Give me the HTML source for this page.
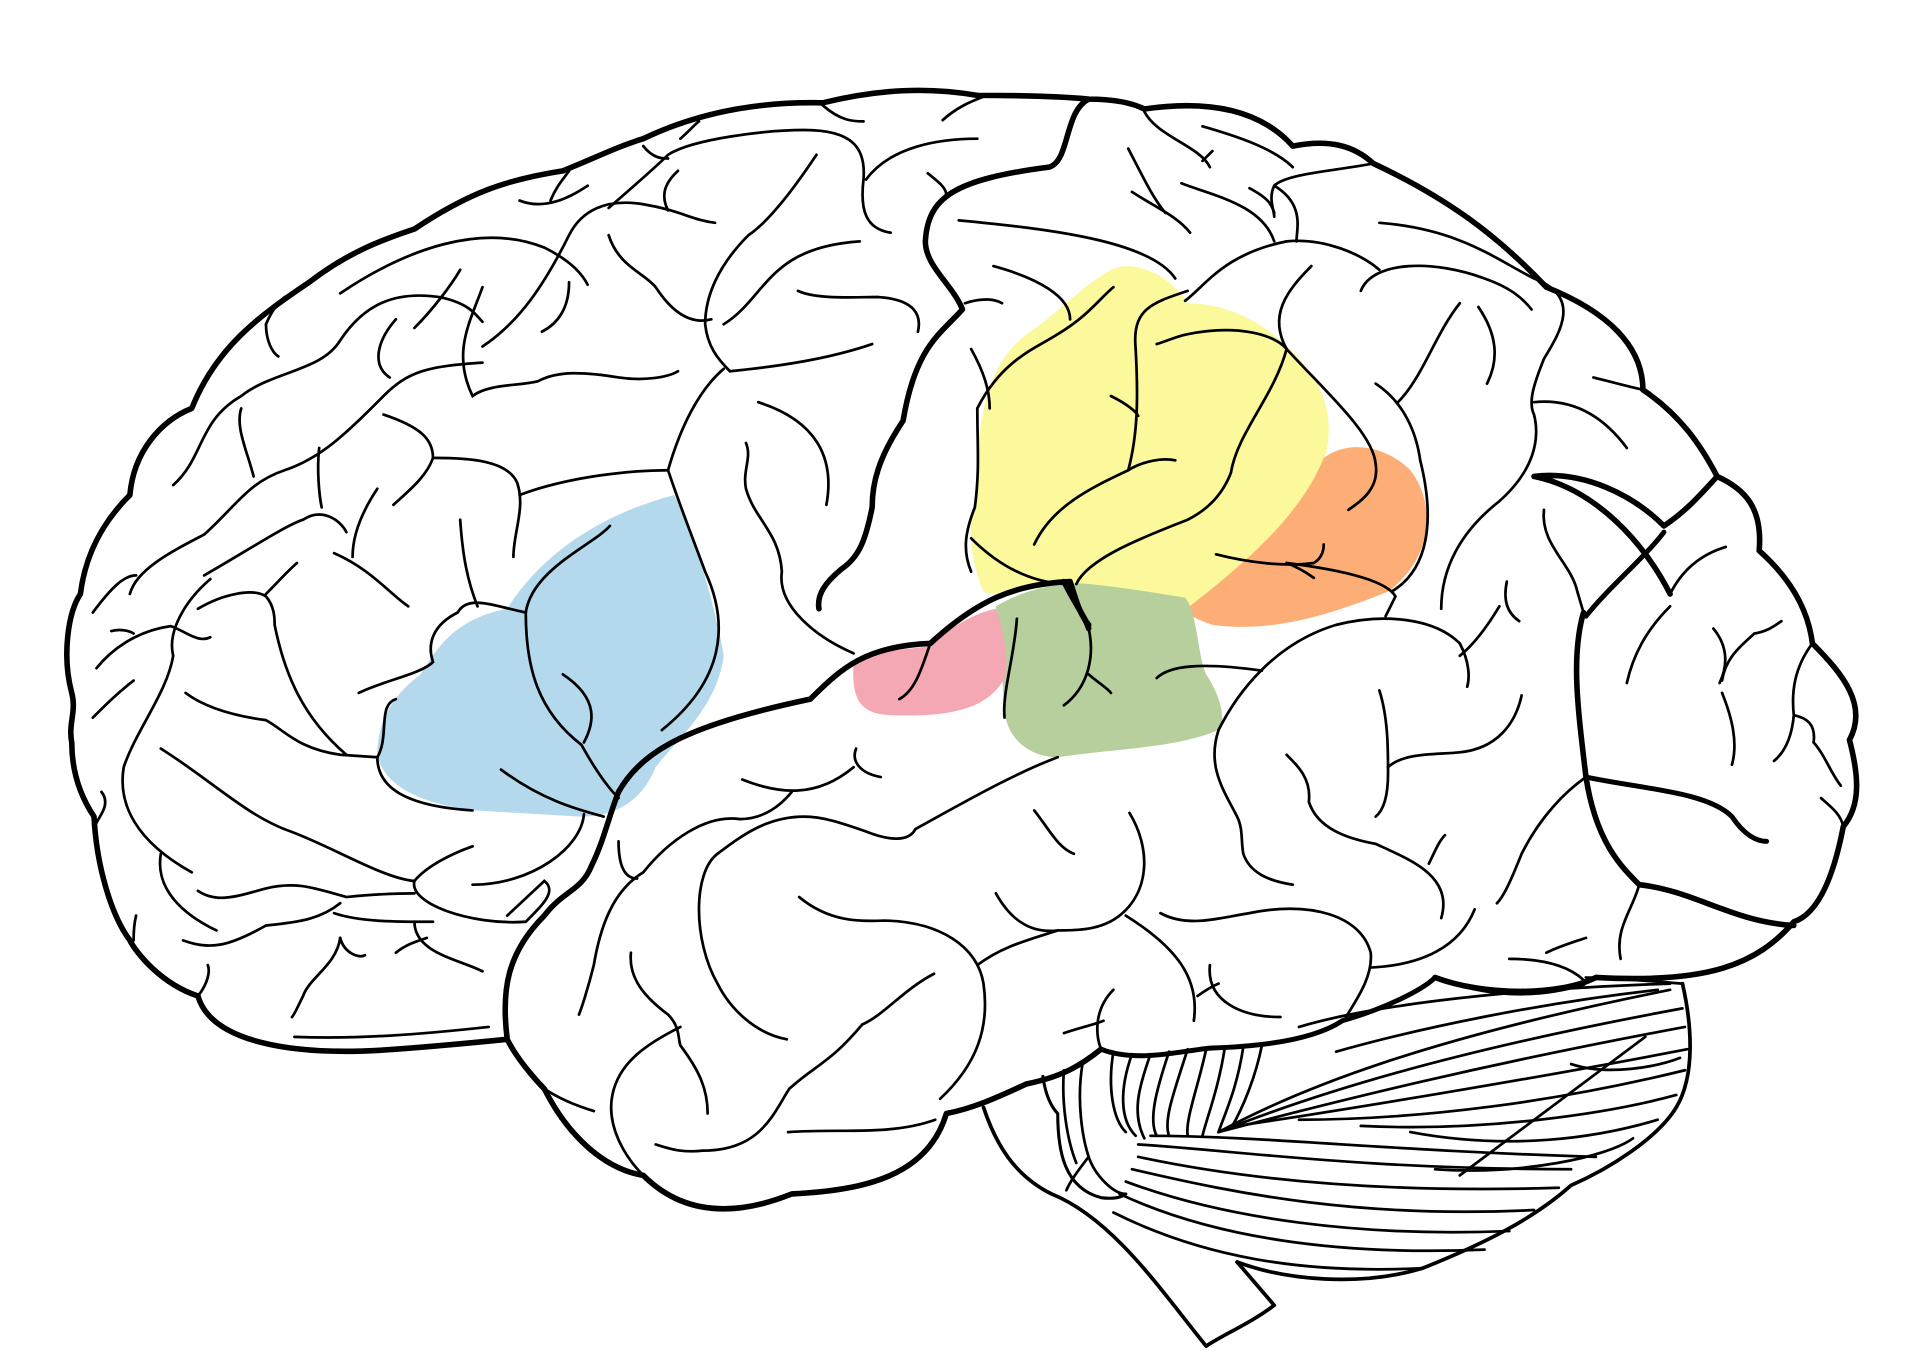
<!DOCTYPE html>
<html><head><meta charset="utf-8"><style>
html,body{margin:0;padding:0;background:#fff;width:1920px;height:1371px;overflow:hidden}
svg{display:block}
</style></head><body>
<svg width="1920" height="1371" viewBox="0 0 1552 1108" xmlns="http://www.w3.org/2000/svg">
<g stroke="none">
<path fill="#b5d9ec" d="M545,400 C565,440 580,500 585,530 C580,570 550,595 530,620 C520,645 500,660 470,660 L385,655 C340,650 310,635 305,610 C305,580 320,560 340,545 C355,520 370,500 410,492 C430,460 470,420 545,400Z"/>
<path fill="#fbf99b" d="M910,215 C935,215 955,235 960,245 C1000,245 1040,270 1065,310 C1085,350 1070,390 1040,420 C1010,455 980,480 960,492 L870,472 C840,470 810,485 795,478 C785,455 780,420 790,400 C790,360 790,300 830,270 C860,250 890,215 910,215Z"/>
<path fill="#fdad76" d="M1070,370 C1090,355 1120,360 1140,380 C1160,405 1160,450 1122,478 C1080,495 1030,512 980,505 C965,500 958,495 958,493 C1000,460 1050,420 1070,370Z"/>
<path fill="#b6cf9c" d="M805,490 C830,475 860,470 880,472 C910,475 940,480 958,483 C968,495 968,530 975,545 C985,560 992,580 985,590 C950,605 900,605 855,612 C835,612 815,600 812,575 C810,545 808,510 805,490Z"/>
<path fill="#f4a8b3" d="M690,535 C710,525 735,525 752,522 C770,505 790,495 805,492 C812,510 816,540 812,548 C800,570 775,580 720,578 C695,577 688,565 690,535Z"/>
</g>
<g fill="none" stroke="#000" stroke-linecap="round" stroke-linejoin="round">
<!-- outer outline -->
<path stroke-width="4.5" d="M160,805 C130,795 110,770 105,760 C90,740 78,700 76,660 C66,645 58,625 58,600 C55,585 62,575 58,560 C50,530 55,495 65,480 C70,440 90,415 105,400 C108,365 130,340 155,330 C175,280 210,255 250,228 C280,205 305,195 335,185 C380,155 410,145 455,138 C480,128 500,118 520,112 C570,88 620,82 665,83 C710,72 750,70 790,77 C830,77 860,78 880,80 C900,80 915,83 925,88 C980,80 1020,90 1045,118 C1075,112 1095,118 1110,132 C1170,160 1210,190 1250,232 C1300,252 1328,280 1328,315 C1358,335 1375,360 1388,385 C1410,395 1425,410 1422,445 C1450,470 1462,495 1465,520 C1490,545 1510,570 1495,598 C1502,625 1505,650 1490,668 C1480,720 1465,740 1450,745 C1420,780 1380,795 1290,790 C1260,805 1200,805 1160,790"/>
<!-- temporal bottom & frontal base -->
<path stroke-width="4.5" d="M160,805 C170,840 230,855 320,848 C360,845 390,842 410,840"/>
<path stroke-width="4.5" d="M410,840 C420,860 440,880 440,880 C460,920 490,945 520,950 C550,980 590,985 640,965 C700,962 750,950 765,900 C790,895 810,885 830,876 C860,870 875,860 890,848"/>
<!-- sylvian fissure -->
<path stroke-width="4.5" d="M410,840 C405,800 410,770 440,740 C455,720 470,720 478,700 C488,680 492,660 500,640 C520,605 560,585 655,565 C680,540 700,522 752,520 C790,485 820,472 865,470 C870,485 872,495 880,505"/>
<path stroke-width="4.5" d="M860,470 C870,490 878,500 880,508"/>
<!-- central sulcus -->
<path stroke-width="4.5" d="M880,80 C860,90 865,130 848,135 C770,145 750,160 748,195 C748,215 770,230 778,250 C760,270 740,280 730,340 C710,370 705,390 705,410 C700,435 695,450 680,460 C668,470 660,480 662,492"/>
<!-- parieto-occipital thick -->
<path stroke-width="4.5" d="M1388,385 C1370,405 1360,415 1345,425 C1320,400 1280,380 1240,385 C1290,395 1330,440 1350,480"/>
<path stroke-width="4.5" d="M1280,495 C1270,530 1275,570 1282,628 C1290,680 1310,700 1325,715 C1370,720 1400,745 1450,748"/>
<path stroke-width="4" d="M1282,628 C1330,638 1380,640 1400,660 C1410,675 1420,680 1428,680"/>
<path stroke-width="4" d="M1282,498 C1300,475 1330,450 1345,430"/>
<!-- cerebellum outline -->
<path stroke-width="3" d="M1360,795 C1368,830 1370,870 1355,895 C1340,920 1300,945 1270,958 C1240,985 1200,1005 1150,1025 C1100,1040 1040,1035 1000,1020"/>
<path stroke-width="3" d="M1000,1020 L1030,1055 C1010,1070 990,1078 975,1088 C940,1045 900,985 850,965 C820,950 805,925 795,895"/>
<path stroke-width="4" d="M890,848 C920,860 960,848 980,847 C1040,845 1070,835 1085,825 C1120,815 1150,800 1160,790 C1190,800 1230,810 1280,795"/>
<path stroke-width="2.5" d="M843,870 C845,885 850,895 855,900 C855,930 860,960 890,968 C905,970 910,965 910,965"/>
</g>
<g fill="none" stroke="#000" stroke-width="2.2" stroke-linecap="round">
<!-- cerebellum folia -->
<path d="M985,915 C1050,880 1150,840 1350,800"/>
<path d="M985,915 C1060,885 1170,850 1360,815"/>
<path d="M985,915 C1080,890 1200,860 1362,830"/>
<path d="M1000,910 C1100,895 1250,870 1364,848"/>
<path d="M1050,905 C1150,905 1260,890 1362,865"/>
<path d="M1100,910 C1200,915 1300,900 1355,885"/>
<path d="M1140,915 C1220,930 1290,920 1340,905"/>
<path d="M1160,945 C1230,950 1300,935 1320,920"/>
<path d="M1050,830 C1100,815 1200,800 1350,795"/>
<path d="M1080,850 C1150,830 1250,810 1340,800"/>
<path d="M920,935 C990,950 1100,965 1260,960"/>
<path d="M915,945 C1000,965 1100,985 1240,978"/>
<path d="M910,955 C990,985 1100,1000 1220,995"/>
<path d="M905,965 C980,1000 1080,1015 1200,1010"/>
<path d="M920,925 C1000,930 1100,945 1270,945"/>
<path d="M930,918 C1020,918 1120,930 1290,935"/>
<path d="M900,980 C970,1015 1050,1030 1150,1025"/>
<path d="M1180,950 L1330,838"/>
<path d="M1270,860 C1300,870 1340,862 1358,855"/>
<path d="M900,850 C895,880 900,905 910,915"/><path d="M915,852 C905,880 905,905 918,918"/>
<path d="M930,852 C920,880 915,900 925,920"/><path d="M945,850 C935,880 928,905 935,918"/>
<path d="M960,848 C950,880 940,905 945,918"/><path d="M975,848 C968,880 958,905 960,918"/>
<path d="M990,847 C985,880 975,905 972,918"/><path d="M1005,846 C1000,880 990,900 985,915"/>
<path d="M1020,845 C1015,870 1005,895 995,912"/>
<path d="M875,860 C870,890 875,920 880,935 C885,950 900,965 910,965"/>
<path d="M860,865 C858,890 862,920 870,940"/>
<path d="M880,935 C870,948 865,955 862,962"/>
<!-- frontal lobe sulci -->
<path d="M275,237 C330,200 390,180 440,200 C460,210 470,220 475,230"/>
<path d="M140,392 C165,370 160,340 195,320 C220,300 260,300 275,275 C295,245 320,235 355,240 C380,245 385,255 390,260"/>
<path d="M105,480 C110,460 140,445 165,432 C190,410 200,390 230,380 C260,370 280,350 310,320 C330,300 345,296 390,293"/>
<path d="M75,495 C90,475 100,465 110,465"/>
<path d="M165,465 C200,445 230,425 245,420 C260,410 275,420 280,430"/>
<path d="M140,530 C135,510 150,485 170,468"/>
<path d="M78,540 C90,525 110,510 138,506 C150,510 160,520 170,515"/>
<path d="M140,530 C135,560 110,590 100,620 C95,650 110,680 155,705"/>
<path d="M75,580 C85,570 95,560 108,550"/>
<path d="M150,560 C170,575 200,580 215,582 C230,590 240,605 275,610 L305,612"/>
<path d="M130,605 C170,630 200,660 235,672 C270,685 310,710 335,712"/>
<path d="M160,492 C180,480 205,475 215,482 C222,490 222,500 222,505 C230,545 245,580 280,610"/>
<path d="M215,480 C225,470 232,462 240,455"/>
<path d="M258,362 C256,380 258,400 260,410"/>
<path d="M270,447 C300,460 315,480 330,490"/>
<path d="M285,450 C285,430 295,410 305,395"/>
<path d="M310,335 C340,345 350,355 350,370 C345,385 330,397 318,408"/>
<path d="M350,370 C380,370 410,372 418,390 C425,410 415,430 415,450"/>
<path d="M420,400 C460,385 510,380 540,380"/>
<path d="M372,420 C374,450 378,470 386,490"/>
<path d="M290,560 C310,550 340,545 350,535 C345,520 350,505 370,495 C378,480 400,490 425,495"/>
<path d="M425,495 C425,540 435,575 470,602 C480,620 490,635 500,645"/>
<path d="M425,495 C430,460 480,440 493,425"/>
<path d="M455,545 C485,565 480,585 472,600"/>
<path d="M405,622 C440,648 470,655 488,660"/>
<path d="M305,612 C305,640 335,652 382,655"/>
<path d="M305,612 C315,595 305,570 320,565"/>
<path d="M335,712 C345,700 365,690 382,684"/>
<path d="M382,715 C430,715 470,685 472,658"/>
<path d="M335,712 C330,730 380,748 425,745"/>
<path d="M425,745 C440,730 450,720 440,712 L410,740"/>
<path d="M160,720 C175,730 190,725 215,718 C240,712 255,718 280,725 C310,722 330,722 335,722"/>
<path d="M130,690 C125,720 150,740 175,752"/>
<path d="M148,760 C170,768 185,765 215,748 C245,745 260,742 275,730"/>
<path d="M270,738 C290,745 320,745 350,745"/>
<path d="M335,745 C335,770 370,775 390,785"/>
<path d="M275,758 C272,780 250,790 245,805 C240,815 238,820 236,822"/>
<path d="M275,758 C278,770 290,775 295,772"/>
<path d="M320,770 C330,762 340,760 345,758"/>
<path d="M238,838 C290,840 340,836 395,830"/>
<path d="M160,805 C168,795 170,785 168,780"/>
<path d="M110,740 C108,748 108,755 108,760"/>
<path d="M82,640 C90,650 80,660 78,665"/>
<path d="M90,510 C98,508 105,510 108,512"/>
<path d="M215,262 C220,250 225,245 230,240"/><path d="M215,262 C215,275 220,285 225,288"/>
<path d="M195,330 C190,345 200,365 205,385"/>
<path d="M335,265 C350,250 365,230 372,218"/>
<path d="M320,258 C305,275 300,295 315,305"/>
<path d="M390,280 C420,260 440,230 460,190 C470,170 490,160 520,165 C550,170 560,178 578,180"/>
<path d="M390,232 C380,260 365,285 382,320 C395,310 420,312 435,308 C450,300 470,300 500,305 C520,308 540,305 548,300"/>
<path d="M460,228 C460,250 450,262 438,268"/>
<path d="M420,162 C440,170 460,160 475,150"/>
<path d="M445,162 C450,150 455,145 460,138"/>
<path d="M492,190 C500,215 520,220 530,232 C545,255 560,262 575,258"/>
<path d="M492,168 C515,148 530,135 540,125 C560,112 620,105 650,105 C690,105 700,120 698,145 C695,170 700,185 720,188"/>
<path d="M548,138 C535,150 535,160 540,170"/>
<path d="M520,118 C528,128 535,128 540,128"/>
<path d="M550,112 C558,105 562,100 565,98"/>
<path d="M660,125 C640,155 620,180 605,190 C580,215 570,240 570,262 C572,280 580,290 590,300"/>
<path d="M585,262 C620,240 620,200 695,195"/>
<path d="M700,145 C720,118 760,112 790,112"/>
<path d="M645,235 C660,242 690,240 710,240 C740,242 745,255 742,268"/>
<path d="M590,300 C630,296 670,290 705,278"/>
<path d="M540,380 C550,345 565,315 585,298"/>
<path d="M540,380 C550,410 562,440 570,462 C590,505 585,550 535,590"/>
<path d="M613,325 C660,340 675,370 668,408"/>
<path d="M603,358 C608,370 600,380 603,395 C610,420 630,430 632,462 C628,490 660,515 690,528"/>
<path d="M665,85 C680,98 690,98 698,98"/>
<path d="M762,97 C775,85 790,80 795,78"/>
<path d="M750,140 C760,148 765,152 765,158"/>
<!-- parietal -->
<path d="M775,178 C850,185 930,195 950,225"/>
<path d="M803,215 C840,225 865,240 865,258"/>
<path d="M780,245 C795,240 805,242 810,245"/>
<path d="M785,282 C795,300 800,315 800,330"/>
<path d="M790,330 C810,290 840,280 855,270 C880,255 890,240 900,232"/>
<path d="M790,330 C790,360 792,380 788,410 C780,430 778,445 785,462"/>
<path d="M785,435 C805,455 830,470 860,472"/>
<path d="M918,282 C915,250 930,245 960,235"/>
<path d="M918,282 C920,320 920,350 912,380 C880,395 850,410 836,440"/>
<path d="M898,320 C910,326 918,332 920,336"/>
<path d="M912,380 C925,372 940,370 950,372"/>
<path d="M870,472 C880,450 930,432 960,420 C980,410 990,395 995,382 C1000,350 1030,320 1040,282 C1030,270 1000,262 960,270 C950,272 945,275 935,278"/>
<path d="M958,243 C975,230 990,205 1040,195 C1070,192 1100,205 1115,218"/>
<path d="M1040,282 C1070,315 1110,350 1112,375 C1115,395 1100,405 1090,412"/>
<path d="M1060,215 C1040,235 1025,255 1040,282"/>
<path d="M1100,235 C1110,210 1160,210 1200,225 C1220,232 1230,240 1238,250"/>
<path d="M983,448 C1010,455 1040,458 1062,455 C1070,450 1070,442 1070,440"/>
<path d="M1040,455 C1048,458 1055,462 1062,467"/>
<path d="M1040,455 C1080,460 1120,468 1128,482 L1120,498"/>
<path d="M1112,310 C1135,325 1145,350 1148,372 C1160,420 1155,460 1125,478"/>
<path d="M1130,325 C1150,305 1160,270 1180,245"/>
<path d="M1195,248 C1210,270 1212,290 1202,310"/>
<path d="M1115,180 C1180,185 1210,210 1240,225 C1280,240 1260,270 1248,290 C1240,310 1235,325 1240,335 C1245,355 1240,380 1212,405 C1180,430 1165,460 1165,492"/>
<path d="M1240,325 C1270,322 1295,335 1315,362"/>
<path d="M1288,305 C1300,308 1315,312 1328,315"/>
<path d="M1248,412 C1245,440 1270,455 1275,478 L1280,495"/>
<path d="M1218,470 C1215,485 1218,495 1228,502"/>
<path d="M1212,490 C1200,510 1190,522 1180,530"/>
<path d="M1110,132 C1080,138 1040,140 1030,150 C1025,160 1030,170 1030,175"/>
<path d="M1030,150 C1055,165 1048,185 1048,195"/>
<path d="M925,90 C935,110 970,118 978,135"/>
<path d="M972,102 C1000,110 1030,120 1045,135"/>
<path d="M1010,152 C1025,160 1028,165 1030,172"/>
<path d="M912,120 C925,145 932,160 942,172"/>
<path d="M955,148 C980,158 1020,165 1030,195"/>
<path d="M915,155 C935,168 952,175 962,188"/>
<path d="M980,122 L972,130"/>
<!-- occipital -->
<path d="M1350,480 C1360,460 1375,448 1395,442"/>
<path d="M1350,490 C1330,510 1320,530 1315,552"/>
<path d="M1385,508 C1395,520 1398,535 1390,552"/>
<path d="M1392,560 C1400,580 1405,600 1400,618"/>
<path d="M1392,550 C1395,530 1410,520 1418,512 C1430,510 1435,505 1440,502"/>
<path d="M1465,520 C1450,540 1448,560 1450,578 C1448,600 1440,610 1434,615"/>
<path d="M1450,578 C1460,580 1468,585 1466,600 C1475,610 1480,625 1488,635"/>
<path d="M1472,645 C1480,652 1488,658 1490,668"/>
<path d="M1282,628 C1265,640 1245,660 1230,690 C1220,715 1215,725 1210,730"/>
<path d="M1325,715 C1320,735 1305,750 1310,775"/>
<path d="M1220,775 C1240,775 1265,778 1280,792"/>
<path d="M1250,770 C1260,765 1270,762 1282,758"/>
<path d="M1360,795 C1300,790 1280,790 1282,790"/>
<!-- temporal lobe -->
<path d="M985,590 C1000,560 1030,520 1080,505 C1120,495 1160,500 1180,520 C1188,535 1188,548 1186,555"/>
<path d="M985,590 C975,620 990,640 1000,660 C1005,670 1003,680 1005,690 C1010,705 1025,712 1045,715"/>
<path d="M935,548 C945,538 970,535 1020,542"/>
<path d="M880,545 C888,552 895,556 898,560"/>
<path d="M880,508 C885,530 880,555 860,570"/>
<path d="M822,500 C820,530 810,560 812,580"/>
<path d="M752,520 C745,540 740,558 727,565"/>
<path d="M855,612 C820,625 780,648 740,670 C735,680 720,680 700,672 C680,665 665,660 650,660 C620,660 600,675 580,690"/>
<path d="M600,630 C630,642 660,645 690,620"/>
<path d="M692,605 C688,615 695,625 712,628"/>
<path d="M640,640 C632,650 618,662 598,662 C570,658 540,680 520,705"/>
<path d="M500,680 C500,700 505,710 515,710"/>
<path d="M520,705 C495,720 485,750 480,780 C475,800 470,815 468,820"/>
<path d="M580,690 C560,705 560,760 580,795 C590,815 610,835 636,840"/>
<path d="M646,725 C670,745 695,745 715,744 C760,745 790,765 795,795 C800,830 790,860 760,888"/>
<path d="M755,787 C730,800 715,820 697,828 C670,860 660,860 638,880 C625,900 615,930 568,930 C550,932 540,928 530,925"/>
<path d="M510,770 C508,790 520,805 540,820 C550,830 548,840 550,845 C565,865 572,880 572,900"/>
<path d="M550,830 C520,845 500,860 495,885 C490,910 505,935 520,950"/>
<path d="M440,880 C455,890 470,895 480,898"/>
<path d="M637,915 C680,912 720,918 756,905"/>
<path d="M836,655 C848,670 855,685 868,690"/>
<path d="M913,657 C930,685 930,720 905,740 C890,752 870,752 855,752 C830,755 815,740 805,722"/>
<path d="M790,780 C810,765 830,760 855,752"/>
<path d="M910,740 C950,765 970,790 965,825"/>
<path d="M938,738 C960,750 985,742 1010,738 C1060,728 1100,740 1108,770 C1110,790 1095,810 1088,822"/>
<path d="M1108,782 C1150,780 1180,765 1192,735"/>
<path d="M978,780 C975,810 1005,822 1035,822"/>
<path d="M968,805 C975,800 980,797 985,795"/>
<path d="M900,800 C885,815 885,835 890,848"/>
<path d="M860,835 C875,830 885,828 892,825"/>
<path d="M1040,610 C1050,620 1060,630 1058,648 C1065,670 1090,678 1112,682 C1140,695 1175,708 1165,742"/>
<path d="M1115,558 C1122,580 1122,605 1122,625 C1122,645 1118,655 1112,660"/>
<path d="M1122,620 C1135,608 1160,610 1180,608 C1210,605 1225,585 1230,562"/>
<path d="M1155,698 C1160,688 1163,680 1168,675"/>
</g>
</svg>
</body></html>
